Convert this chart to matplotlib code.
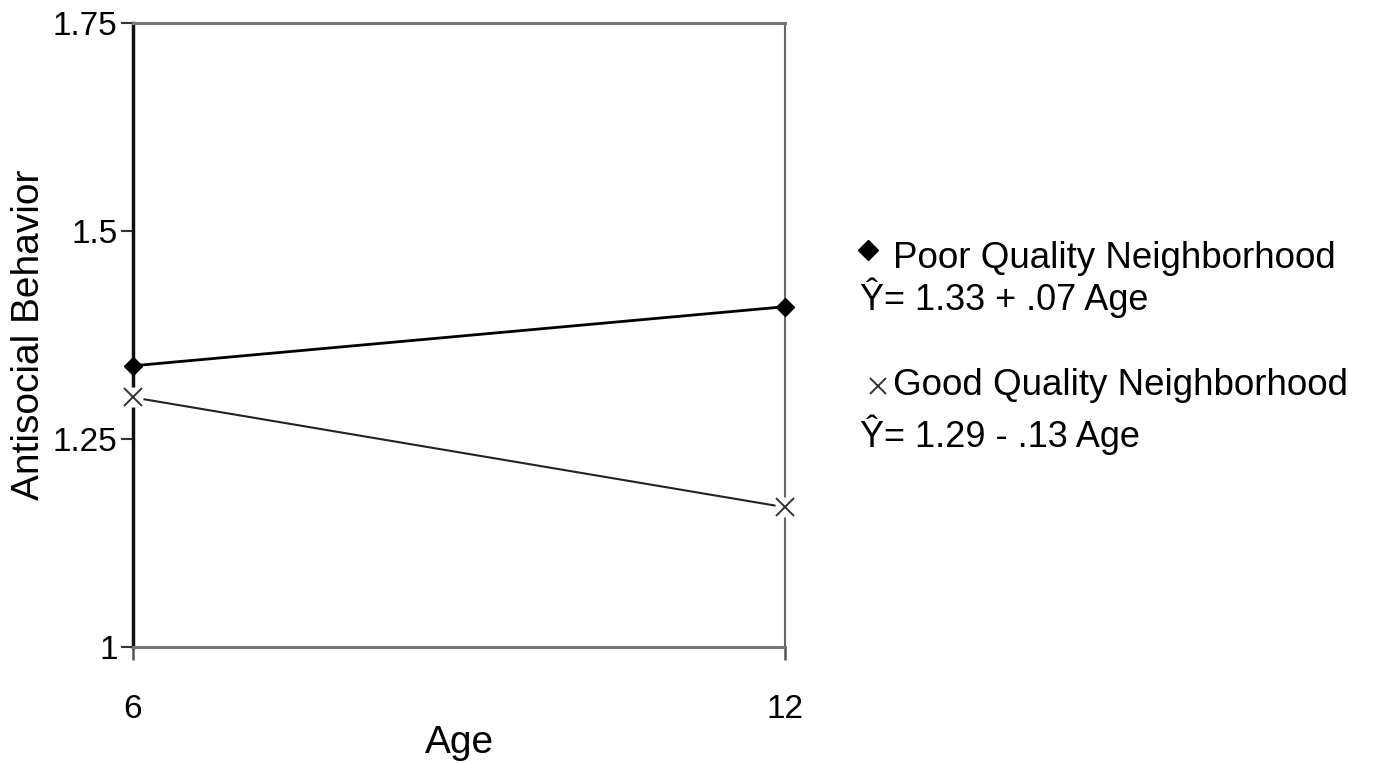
import matplotlib
matplotlib.use("Agg")
import matplotlib.pyplot as plt
from matplotlib.lines import Line2D

plt.rcParams['font.family'] = ['Liberation Sans', 'DejaVu Sans']

ages = [6, 12]
poor = [1.338, 1.409]
good = [1.300, 1.168]
yticks = [1, 1.25, 1.5, 1.75]
ytick_labels = ["1", "1.25", "1.5", "1.75"]
xtick_labels = ["6", "12"]
poor_label = "Poor Quality Neighborhood"
poor_eq = "\u0176= 1.33 + .07 Age"
good_label = "Good Quality Neighborhood"
good_eq = "\u0176= 1.29 - .13 Age"

fig = plt.figure(figsize=(13.74, 7.64), dpi=100)
ax = fig.add_axes([133/1374, 1-647/764, (785-133)/1374, (647-23)/764])

ax.plot(ages, poor, color='black', lw=2.0, marker='D', ms=9, mfc='black', mec='black',
        zorder=5, clip_on=False)
ax.plot(ages, good, color='#222222', lw=1.5, zorder=4, clip_on=False)
ax.plot(ages, good, ls='none', marker='s', ms=14, mfc='white', mec='none', zorder=5, clip_on=False)
ax.plot(ages, good, ls='none', marker='x', ms=13, mew=1.4, color='#333333', zorder=6, clip_on=False)

ax.set_xlim(6, 12)
ax.set_ylim(1, 1.75)
ax.set_yticks(yticks)
ax.set_yticklabels(ytick_labels)
ax.set_xticks(ages)
ax.set_xticklabels(xtick_labels)

ax.tick_params(axis='y', direction='out', length=9, width=1.5, color='#333333',
               labelsize=24, pad=2)
ax.tick_params(axis='x', direction='out', length=9.5, width=1.8, color='#555555',
               labelsize=24, pad=24)

for s in ['top', 'bottom']:
    ax.spines[s].set_color('#777777')
    ax.spines[s].set_linewidth(2.2)
ax.spines['right'].set_color('#666666')
ax.spines['right'].set_linewidth(1.5)
ax.spines['left'].set_color('#111111')
ax.spines['left'].set_linewidth(2.5)
ax.spines['right'].set_zorder(1)

ax.set_xlabel("Age", fontsize=28, labelpad=0)
ax.set_ylabel("Antisocial Behavior", fontsize=28, labelpad=4)

# legend-like annotations
fig.add_artist(Line2D([868/1374], [1-250/764], marker='D', ms=10, color='black',
                      transform=fig.transFigure))
fig.text(893/1374, 1-258/764, poor_label, fontsize=26.5, va='center', ha='left')
fig.text(860/1374, 1-298/764, poor_eq, fontsize=26, va='center', ha='left')
fig.add_artist(Line2D([878/1374], [1-386/764], marker='x', ms=12, mew=1.4, color='#333333',
                      transform=fig.transFigure))
fig.text(893/1374, 1-386/764, good_label, fontsize=26.5, va='center', ha='left')
fig.text(860/1374, 1-435/764, good_eq, fontsize=26, va='center', ha='left')

fig.savefig("out.png", dpi=100, facecolor='white')
